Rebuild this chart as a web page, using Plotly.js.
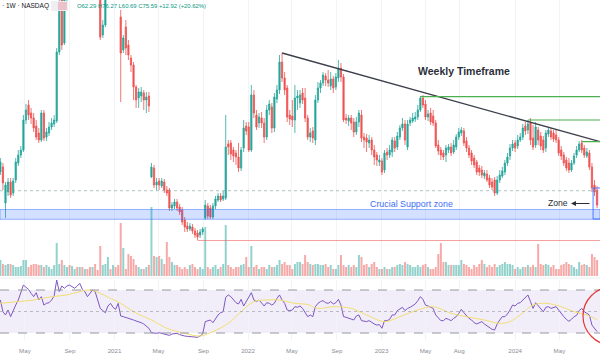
<!DOCTYPE html>
<html>
<head>
<meta charset="utf-8">
<script src="https://cdn.plot.ly/plotly-3.0.1.min.js"></script>
<style>html,body{margin:0;padding:0;background:#fff;}#chart{width:600px;height:360px;}</style>
</head>
<body>
<div id="chart"></div>
<script>
const START = '2020-02-24';
const openPrice = [
128,133,97,108,118,107,120,137,145,150,
180,195,187,182,174,167,160,187,163,167,
173,176,179,248,315,257,320,335,325,350,
370,355,380,360,375,350,340,360,330,305,
265,275,310,330,320,340,330,283,250,273,
255,242,235,213,202,204,207,200,204,123,
132,115,119,114,118,110,110,92,94,98,
93,90,80,74,71,73,69,67,65,68,
82,94,92,83,94,100,104,101,102,156,
157,150,147,143,132,152,174,173,150,205,
185,177,182,177,163,190,193,172,201,210,
238,222,212,185,184,180,202,197,207,202,
182,163,169,160,200,212,217,224,220,214,
221,213,222,232,223,182,179,182,178,168,
178,185,163,162,157,160,150,145,138,139,
130,148,145,148,159,153,163,172,176,153,
177,179,181,183,190,202,196,183,187,184,
177,155,150,147,145,150,153,148,153,163,
167,169,159,152,147,142,138,132,130,124,
126,122,118,120,107,120,124,128,137,144,
152,157,154,160,163,174,170,177,162,155,
170,164,160,152,166,169,167,165,160,150,
145,140,137,130,137,145,150,157,152,144,
147,133,115,110];
const closePrice = [
138,117,115,118,105,119,138,145,150,180,
190,185,182,172,163,160,187,162,168,173,
177,180,248,297,255,320,335,325,350,370,
355,380,360,375,350,340,360,330,310,263,
275,310,330,320,340,315,302,247,262,252,
245,235,213,200,208,208,200,203,194,133,
115,118,115,119,110,107,92,95,98,92,
88,78,73,71,74,69,65,63,68,71,
95,84,83,94,101,104,100,104,153,153,
146,144,143,132,150,172,169,150,205,187,
173,183,177,163,190,196,172,203,210,238,
222,210,183,181,180,202,204,205,200,182,
163,167,162,200,212,217,225,220,217,221,
212,223,232,223,180,180,182,177,168,178,
187,162,160,158,160,150,143,140,140,128,
147,145,150,160,152,164,172,176,160,176,
180,182,183,190,202,195,183,186,178,177,
154,149,145,143,152,153,147,155,163,168,
170,157,152,145,139,135,128,128,125,127,
120,115,113,107,120,125,129,137,143,152,
156,152,160,163,172,169,176,160,153,173,
160,154,150,167,170,163,161,160,147,144,
137,132,130,137,144,150,156,150,145,148,
133,112,108,95];
const highPrice = [
142,137,118,122,122,122,142,150,154,185,
196,200,192,187,180,172,190,190,172,178,
182,185,252,310,330,340,345,350,360,380,
385,390,395,385,380,360,370,365,335,315,
280,320,340,345,350,345,335,290,265,280,
260,245,238,215,212,213,210,208,208,137,
135,122,122,122,121,114,112,98,101,101,
96,93,83,78,77,76,72,70,71,73,
100,97,95,97,104,107,107,109,185,160,
160,153,150,157,153,180,178,178,215,210,
190,187,188,182,195,200,197,207,215,245,
247,228,215,190,200,215,210,210,212,212,
185,172,173,205,218,220,228,227,230,228,
224,227,240,237,226,186,185,185,182,183,
190,190,167,166,165,163,155,148,145,142,
150,152,155,163,163,168,175,182,180,180,
183,187,188,195,204,205,200,190,192,190,
180,160,153,150,155,156,157,160,166,172,
173,172,163,155,150,145,140,135,134,130,
130,125,122,123,124,130,133,140,147,156,
160,160,165,167,176,178,180,182,175,178,
173,168,164,170,173,172,170,170,163,154,
148,143,142,140,147,154,159,160,155,152,
150,137,120,114];
const lowPrice = [
125,110,82,104,102,104,117,134,142,148,
176,180,176,168,160,157,158,159,159,164,
170,173,177,245,250,255,297,315,320,345,
350,350,355,355,345,335,335,325,305,260,
262,273,305,315,315,310,300,198,247,245,
240,228,200,192,192,198,190,187,188,122,
112,110,110,112,107,104,89,89,91,89,
85,75,68,68,69,66,62,60,62,65,
80,81,81,81,91,98,98,99,100,145,
140,138,135,128,129,148,165,148,148,182,
170,172,172,157,160,185,167,168,197,206,
218,205,178,175,173,167,190,192,196,178,
160,158,157,155,197,207,214,214,213,210,
207,210,218,218,178,176,174,170,163,165,
173,158,152,148,152,145,135,134,134,125,
127,140,142,143,148,150,160,169,155,150,
174,177,178,180,188,192,180,179,175,174,
152,145,140,140,138,147,144,146,150,160,
164,154,148,142,135,132,125,124,122,121,
118,112,110,104,105,117,122,125,134,140,
149,148,151,158,160,165,166,155,150,152,
155,150,147,148,163,160,158,157,144,140,
134,129,127,128,135,142,148,147,142,142,
130,108,104,92];
const volumeM = [
8,6,5.5,6,6,5.5,4.5,4.5,5,8,
8,4.5,5.5,6,6,5.5,5.5,4.5,5.5,4.5,
3.5,5.5,16.5,6,8,5.5,4.5,5.5,5,3.5,
4.5,4.5,4.5,3.5,3.5,4.5,4.5,6,3,15,
5.5,6,9.5,3.5,5.5,4.5,5.5,26.5,14,3.5,
11,10,8.5,5.5,4.5,3.5,3.5,4.5,5.5,34.5,
10,9.5,10,8.5,6,17,9.5,7,5.5,5.5,
4.5,3.5,4.5,3.5,5.5,6,4.5,3.5,4.5,3.5,
24.5,4.5,3.5,4.5,5.5,3.5,4.5,6,25.5,5.5,
4.5,3.5,4.5,4.5,5.5,6,9.5,4.5,15,4.5,
5.5,3.5,4.5,4.5,3.5,5.5,4.5,4.5,5.5,8,
6,7,5.5,5.5,3.5,6,7,7,6,10.5,
7,6,5.5,6,6,5.5,5.5,6,4.5,5.5,
3.5,3.5,5.5,10.5,5.5,4.5,5.5,4.5,5.5,4.5,
10.5,9.5,5.5,6,4.5,6,7,4.5,3.5,3.5,
4.5,3.5,3.5,4.5,4.5,5.5,6,5.5,7,6,
5.5,4.5,4.5,5.5,4.5,5.5,6,4.5,3.5,3.5,
4.5,11,16.5,7,7,5.5,5.5,5.5,5.5,5.5,
8,6,5.5,4.5,3.5,5.5,4.5,6,8,6,
4.5,5.5,4.5,6,4.5,5.5,6,7,6,6,
5.5,3.5,4.5,3.5,4.5,4.5,5.5,4.5,5.5,4.5,
16,6,5.5,6,5.5,4.5,5.5,3.5,3.5,5.5,
6,7,6,5.5,4.5,3.5,7,5.5,6,5.5,
4.5,11,9.5,8];
const rsiValue = [
60.7,49.8,46.8,51.4,45.2,51.4,56.0,60.7,66.9,74.6,
72.5,70.6,66.9,63.8,67.5,60.7,63.8,56.0,57.6,58.2,
60.7,64.4,79.3,68.5,73.7,71.6,73.7,74.6,73.1,71.6,
73.7,76.2,70.6,68.5,63.8,66.9,70.0,68.5,60.7,52.9,
50.8,48.9,55.1,57.6,53.9,52.0,57.6,45.8,45.2,44.6,
43.6,42.7,42.1,41.2,40.6,39.6,38.4,36.5,34.4,30.3,
29.7,29.7,30.3,29.7,29.1,28.2,27.8,29.1,29.7,29.7,
28.5,27.5,27.2,26.9,26.6,26.3,25.7,26.0,27.2,29.1,
40.6,41.5,42.1,39.6,43.6,46.8,48.9,49.8,63.2,65.4,
63.8,61.3,58.2,57.0,61.3,55.1,59.2,63.2,67.5,60.7,
59.2,60.7,58.2,55.1,58.2,57.6,56.0,57.6,62.2,65.4,
60.7,57.6,51.4,50.8,51.4,54.5,53.9,55.1,52.9,48.3,
45.2,46.8,45.2,54.5,57.6,59.2,60.1,58.2,57.6,59.2,
57.0,58.2,61.3,56.0,45.2,44.6,43.6,42.7,42.1,45.8,
46.8,41.5,40.9,40.6,41.5,39.6,38.4,37.4,37.8,34.4,
41.5,41.5,42.7,46.8,46.8,50.8,52.0,53.9,50.8,52.9,
53.9,55.1,57.0,60.1,63.8,61.3,56.0,55.1,53.9,52.9,
46.8,43.6,41.5,41.5,43.6,42.7,41.5,43.6,45.2,48.3,
52.0,48.9,45.8,43.6,42.1,39.6,38.4,39.6,40.6,38.4,
36.5,35.3,33.4,32.8,38.4,42.1,45.2,45.2,47.7,51.4,
56.0,55.1,57.6,58.2,60.7,63.2,65.4,59.2,52.9,58.2,
55.1,52.0,49.8,53.9,54.5,52.9,53.9,54.5,51.4,47.7,
45.2,42.7,40.9,42.7,45.2,46.4,50.8,52.9,49.8,48.3,
46.8,37.4,34.4,31.3];
const rsiMaWeek = [0,7,13,20,26,31,35,39,43,47,52,59,65,72,78,83,89,94,99,104,109,115,120,124,130,137,143,150,156,163,169,176,182,189,195,199,203,208,213,219,224,229,233];
const rsiMaValue = [57.6,59.2,60.7,63.8,65.4,68.5,70.0,66.9,62.2,57.6,49.8,42.1,34.4,29.7,27.2,31.3,39.0,49.8,59.2,60.7,60.7,57.6,56.5,52.9,54.5,52.9,46.8,40.6,45.2,51.4,54.5,48.3,45.2,42.1,39.0,40.6,46.8,56.0,57.6,54.5,49.8,46.8,42.4];
const tickDates = ['2020-05-01','2020-09-01','2021-01-01','2021-05-01','2021-09-01','2022-01-01','2022-05-01','2022-09-01','2023-01-01','2023-05-01','2023-08-01','2024-01-01','2024-05-01'];
const tickLabels = ['May','Sep','2021','May','Sep','2022','May','Sep','2023','May','Aug','2024','May'];

// annotation levels (prices)
const trendStart = {date:'2022-04-04', price:247};
const trendEnd = {date:'2024-08-20', price:158.3};
const greenLevels = [{from:'2023-04-17', price:203.4},{from:'2024-02-05', price:180},{from:'2024-07-01', price:158.3}];
const redLevel = {from:'2021-08-16', price:59.5};
const lastPriceLine = 109.3;
const supportZone = [80.7, 90.5];
const zoneBox = {from:'2024-08-01', lo:81, hi:112};

const weekMs = 7*86400000;
const t0 = Date.UTC(2020,1,24);
const dates = openPrice.map((_, i) => new Date(t0 + i*weekMs).toISOString().slice(0,10));
const maDates = rsiMaWeek.map(i => dates[i]);
const upCol = '#26a69a', dnCol = '#ef5350';
const volColors = closePrice.map((c, i) => c >= openPrice[i] ? 'rgba(38,166,154,0.5)' : 'rgba(239,83,80,0.5)');

const traces = [
  {type:'bar', x:dates, y:volumeM, xaxis:'x', yaxis:'y', marker:{color:volColors, line:{width:0}}, width:5.4*86400000, hoverinfo:'skip'},
  {type:'candlestick', x:dates, open:openPrice, high:highPrice, low:lowPrice, close:closePrice, xaxis:'x', yaxis:'y2',
   increasing:{line:{color:upCol, width:0.8}, fillcolor:upCol}, decreasing:{line:{color:dnCol, width:0.8}, fillcolor:dnCol}, whiskerwidth:0, hoverinfo:'skip'},
  {type:'scatter', mode:'lines', x:dates, y:rsiValue, xaxis:'x', yaxis:'y3', line:{color:'#7e57c2', width:1}, hoverinfo:'skip'},
  {type:'scatter', mode:'lines', x:maDates, y:rsiMaValue, xaxis:'x', yaxis:'y3', line:{color:'#f2dd72', width:1, shape:'spline', smoothing:1}, hoverinfo:'skip'}
];

const H = 340; // plot height in px
const py = p => 1 - p/H;
const shapes = [
  {type:'rect', xref:'paper', yref:'y3', x0:0, x1:1, y0:30, y1:70, fillcolor:'rgba(126,87,194,0.1)', line:{width:0}, layer:'below'},
  {type:'line', xref:'paper', yref:'y3', x0:0, x1:1, y0:70, y1:70, line:{color:'#9598a1', width:1, dash:'dash'}},
  {type:'line', xref:'paper', yref:'y3', x0:0, x1:1, y0:50, y1:50, line:{color:'rgba(149,152,161,0.6)', width:1, dash:'dot'}},
  {type:'line', xref:'paper', yref:'y3', x0:0, x1:1, y0:30, y1:30, line:{color:'#9598a1', width:1, dash:'dash'}},
  {type:'line', xref:'paper', yref:'paper', x0:0, x1:1, y0:py(278), y1:py(278), line:{color:'#eceef2', width:1}},
  {type:'rect', xref:'paper', yref:'y2', x0:0, x1:1, y0:supportZone[0], y1:supportZone[1], fillcolor:'rgba(41,98,255,0.2)', line:{color:'rgba(41,98,255,0.45)', width:1}},
  {type:'line', xref:'paper', yref:'y2', x0:0, x1:1, y0:lastPriceLine, y1:lastPriceLine, line:{color:'rgba(120,160,150,0.6)', width:1, dash:'dot'}},
  {type:'line', xref:'x', yref:'y2', x0:redLevel.from, x1:'2024-09-30', y0:redLevel.price, y1:redLevel.price, line:{color:'rgba(239,83,80,0.55)', width:1}},
  {type:'line', xref:'x', yref:'y2', x0:trendStart.date, y0:trendStart.price, x1:trendEnd.date, y1:trendEnd.price, line:{color:'#3b3f4a', width:1.3}},
  {type:'rect', xref:'x', yref:'y2', x0:zoneBox.from, x1:'2024-09-30', y0:zoneBox.lo, y1:zoneBox.hi, fillcolor:'rgba(41,98,255,0.05)', line:{color:'rgba(41,98,255,0.8)', width:1}},
  {type:'circle', xref:'paper', yref:'paper', x0:583/600, x1:641/600, y0:py(345), y1:py(287), line:{color:'#e53935', width:1.2}},
  {type:'rect', xref:'paper', yref:'paper', x0:51/600, x1:68/600, y0:py(11), y1:py(1), fillcolor:'rgba(236,238,242,0.95)', line:{width:0}},
  {type:'rect', xref:'paper', yref:'paper', x0:58/600, x1:67/600, y0:py(10), y1:py(2), fillcolor:'rgba(242,120,140,0.35)', line:{width:0}}
];
greenLevels.forEach(g => shapes.push({type:'line', xref:'x', yref:'y2', x0:g.from, x1:'2024-09-30', y0:g.price, y1:g.price, line:{color:'#4caf50', width:1.2}}));

const annotations = [
  {xref:'paper', yref:'paper', x:0, y:py(6), xanchor:'left', yanchor:'middle', text:'· 1W · NASDAQ', showarrow:false, font:{family:'Liberation Sans, Arial', size:6.5, color:'#131722'}},
  {xref:'paper', yref:'paper', x:75/600, y:py(6), xanchor:'left', yanchor:'middle', text:'O62.29 H76.27 L60.69 C75.59 +12.92 (+20.62%)', showarrow:false, font:{family:'Liberation Sans, Arial', size:5.9, color:'#089981'}},
  {xref:'paper', yref:'paper', x:463.5/600, y:py(71), xanchor:'center', yanchor:'middle', text:'Weekly Timeframe', showarrow:false, font:{family:'Liberation Sans, Arial', size:10.5, color:'#2a2e39', weight:'bold'}},
  {xref:'paper', yref:'paper', x:411.5/600, y:py(204), xanchor:'center', yanchor:'middle', text:'Crucial Support zone', showarrow:false, font:{family:'Liberation Sans, Arial', size:8.9, color:'#3d6ef5'}},
  {xref:'paper', yref:'paper', x:557.5/600, y:py(203), xanchor:'center', yanchor:'middle', text:'Zone', showarrow:false, font:{family:'Liberation Sans, Arial', size:8.6, color:'#2a2e39'}},
  {xref:'paper', yref:'paper', x:571/600, y:py(203.5), ax:20, ay:0, text:'', showarrow:true, arrowhead:2, arrowsize:1, arrowwidth:1, arrowcolor:'#2a2e39'}
];

const layout = {
  width:600, height:360, margin:{l:0, r:0, t:0, b:20}, paper_bgcolor:'#ffffff', plot_bgcolor:'#ffffff',
  showlegend:false, hovermode:false, dragmode:false,
  xaxis:{type:'date', range:['2020-02-23','2024-08-20'], anchor:'y3', rangeslider:{visible:false},
    tickmode:'array', tickvals:tickDates, ticktext:tickLabels, tickfont:{family:'Liberation Sans, Arial', size:6.2, color:'#8a8d96'},
    ticks:'outside', ticklen:5, tickcolor:'rgba(0,0,0,0)', showgrid:true, gridcolor:'#f1f3f7', gridwidth:1, zeroline:false, showline:false},
  yaxis:{domain:[1-276/H, 1], range:[0,138], visible:false, fixedrange:true},
  yaxis2:{overlaying:'y', range:[24,300], visible:false, fixedrange:true},
  yaxis3:{domain:[0, 60/H], range:[23.5,79.3], visible:false, fixedrange:true},
  shapes:shapes, annotations:annotations
};

Plotly.newPlot('chart', traces, layout, {staticPlot:true, displayModeBar:false});
</script>
</body>
</html>
